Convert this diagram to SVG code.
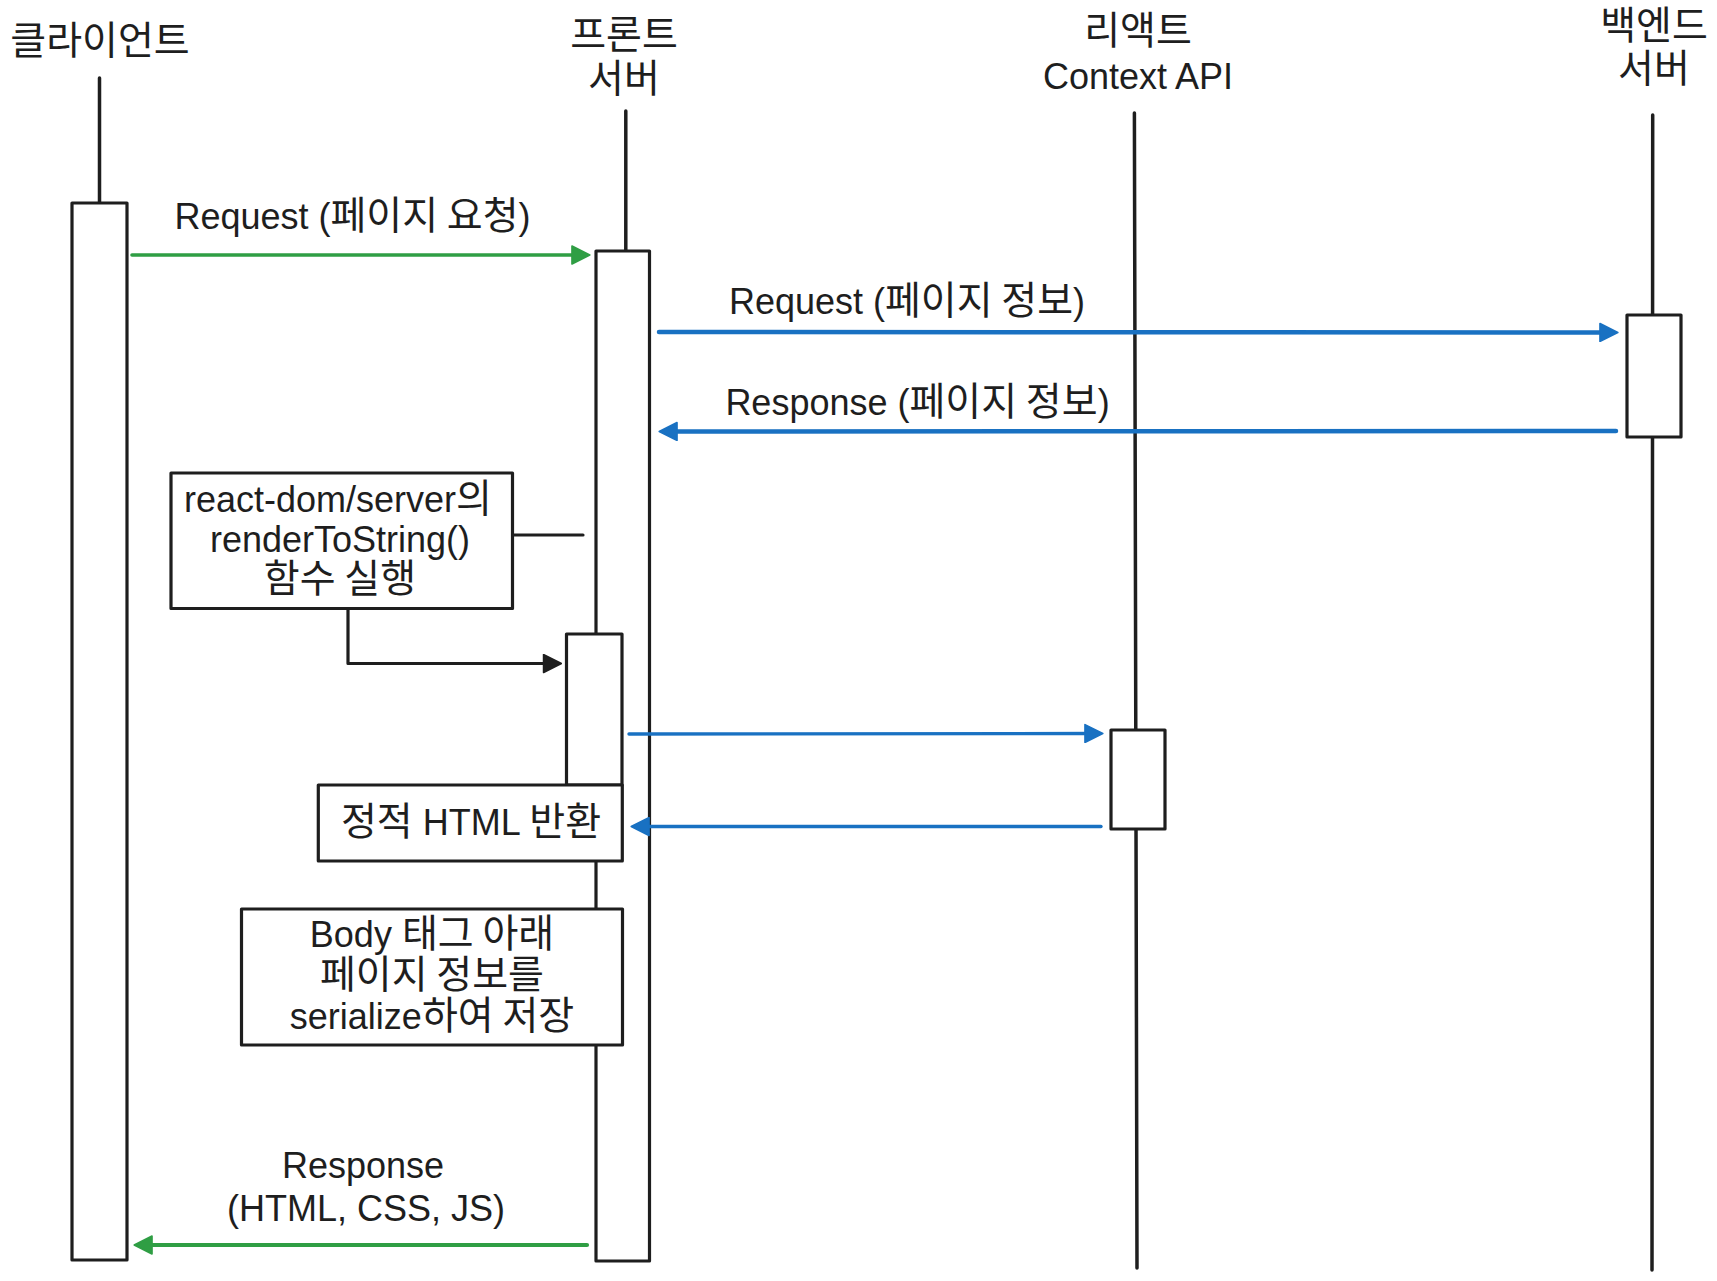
<svg xmlns="http://www.w3.org/2000/svg" width="1717" height="1281" viewBox="0 0 1717 1281">
<style>
  text { font-family: "Liberation Sans", "Noto Sans CJK KR", sans-serif; font-size: 36px; fill: #1e1e1e; text-anchor: middle; }
  .ko { font-family: "Noto Sans CJK KR", "Liberation Sans", sans-serif; font-size: 39px; }
  .life { stroke: #1e1e1e; stroke-width: 3.5; stroke-linecap: round; fill: none; }
  .box { fill: #ffffff; stroke: #1e1e1e; stroke-width: 3.2; stroke-linejoin: round; }
  .green { stroke: #2f9e44; fill: none; stroke-linecap: round; }
  .blue { stroke: #1971c2; fill: none; stroke-linecap: round; }
  .black { stroke: #1e1e1e; fill: none; stroke-linecap: round; stroke-linejoin: round; }
</style>
<defs>
  <marker id="ahGreen" markerUnits="userSpaceOnUse" markerWidth="20" markerHeight="20" viewBox="0 0 18 18" refX="10" refY="9" orient="auto">
    <path d="M1,1 L17,9 L1,17 z" fill="#2f9e44" stroke="#2f9e44" stroke-width="1.5" stroke-linejoin="round"/>
  </marker>
  <marker id="ahBlue" markerUnits="userSpaceOnUse" markerWidth="20" markerHeight="20" viewBox="0 0 18 18" refX="10" refY="9" orient="auto">
    <path d="M1,1 L17,9 L1,17 z" fill="#1971c2" stroke="#1971c2" stroke-width="1.5" stroke-linejoin="round"/>
  </marker>
  <marker id="ahBlack" markerUnits="userSpaceOnUse" markerWidth="20" markerHeight="20" viewBox="0 0 18 18" refX="10" refY="9" orient="auto">
    <path d="M1,1 L17,9 L1,17 z" fill="#1e1e1e" stroke="#1e1e1e" stroke-width="1.5" stroke-linejoin="round"/>
  </marker>
</defs>
<rect x="0" y="0" width="1717" height="1281" fill="#ffffff"/>

<g id="client">
  <text class="ko" x="100" y="54">클라이언트</text>
  <line class="life" x1="99.5" y1="78" x2="99.5" y2="203"/>
  <rect class="box" x="72" y="203" width="55" height="1057"/>
</g>

<g id="front-server">
  <text class="ko" x="624" y="48">프론트</text>
  <text class="ko" x="624" y="92">서버</text>
  <line class="life" x1="625.8" y1="111" x2="625.8" y2="251"/>
  <rect class="box" x="596" y="251" width="53.5" height="1010"/>
  <rect id="front-sub-activation" class="box" x="566.5" y="634" width="55.5" height="151"/>
</g>

<g id="react-context">
  <text class="ko" x="1138" y="44">리액트</text>
  <text x="1138" y="89">Context API</text>
  <line class="life" x1="1134.4" y1="113" x2="1137" y2="1268"/>
  <rect class="box" x="1111" y="730" width="54" height="99"/>
</g>

<g id="backend-server">
  <text class="ko" x="1654" y="39">백엔드</text>
  <text class="ko" x="1654" y="82">서버</text>
  <line class="life" x1="1652.7" y1="115" x2="1652" y2="1270"/>
  <rect class="box" x="1627" y="315" width="54" height="122"/>
</g>

<g id="connectors">
  <line class="green" stroke-width="3.6" x1="132" y1="255" x2="582" y2="255" marker-end="url(#ahGreen)"/>
  <line class="blue" stroke-width="4.5" x1="659" y1="332" x2="1610" y2="332.5" marker-end="url(#ahBlue)"/>
  <line class="blue" stroke-width="4.5" x1="1616" y1="431" x2="667" y2="431.5" marker-end="url(#ahBlue)"/>
  <line class="black" stroke-width="3.2" x1="512.5" y1="535" x2="583" y2="535"/>
  <polyline class="black" stroke-width="3.2" points="348,608.5 348,663.5 553.6,663.5" marker-end="url(#ahBlack)"/>
  <line class="blue" stroke-width="3.4" x1="629" y1="734" x2="1095" y2="733.5" marker-end="url(#ahBlue)"/>
  <line class="blue" stroke-width="3.4" x1="1101" y1="826.5" x2="639" y2="826.5" marker-end="url(#ahBlue)"/>
  <line class="green" stroke-width="4.2" x1="587" y1="1245" x2="142" y2="1245" marker-end="url(#ahGreen)"/>
</g>

<g id="label-request-page">
  <text x="352.5" y="228.5">Request (<tspan class="ko">페이지 요청</tspan>)</text>
</g>
<g id="label-request-info">
  <text x="907" y="314">Request (<tspan class="ko">페이지 정보</tspan>)</text>
</g>
<g id="label-response-info">
  <text x="917.5" y="415">Response (<tspan class="ko">페이지 정보</tspan>)</text>
</g>

<g id="note-render">
  <rect class="box" x="171" y="473" width="341.5" height="135.5"/>
  <text x="338" y="511.6">react-dom/server<tspan class="ko">의</tspan></text>
  <text x="340" y="552">renderToString()</text>
  <text class="ko" x="340" y="592">함수 실행</text>
</g>

<g id="note-static-html">
  <rect class="box" x="318.3" y="785" width="304" height="76"/>
  <text x="471" y="835"><tspan class="ko">정적</tspan> HTML <tspan class="ko">반환</tspan></text>
</g>

<g id="note-serialize">
  <rect class="box" x="241.5" y="909" width="381" height="136"/>
  <text x="432" y="947">Body <tspan class="ko">태그 아래</tspan></text>
  <text class="ko" x="432" y="988">페이지 정보를</text>
  <text x="432" y="1029">serialize<tspan class="ko">하여 저장</tspan></text>
</g>

<g id="label-response-html">
  <text x="363" y="1177.6">Response</text>
  <text x="366" y="1221">(HTML, CSS, JS)</text>
</g>
</svg>
